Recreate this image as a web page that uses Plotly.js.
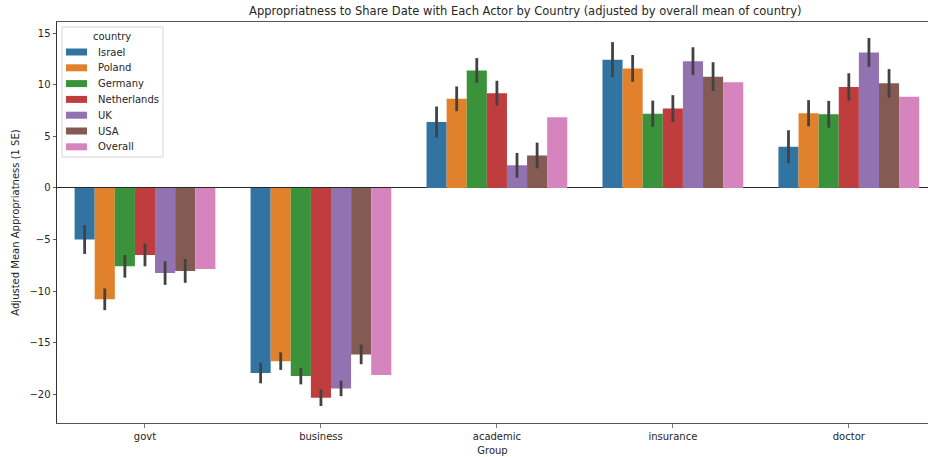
<!DOCTYPE html>
<html>
<head>
<meta charset="utf-8">
<script src="https://cdn.plot.ly/plotly-3.0.1.min.js"></script>
<style>html,body{margin:0;padding:0;background:#fff;}#chart{width:928px;height:457px;}</style>
</head>
<body>
<div id="chart"></div>
<script>
const groups = ["govt", "business", "academic", "insurance", "doctor"];
const countries = ["Israel", "Poland", "Germany", "Netherlands", "UK", "USA", "Overall"];

const israel      = [-5.0, -17.95, 6.4, 12.45, 4.0];
const poland      = [-10.8, -16.8, 8.65, 11.6, 7.25];
const germany     = [-7.6, -18.25, 11.4, 7.2, 7.15];
const netherlands = [-6.5, -20.35, 9.2, 7.7, 9.8];
const uk          = [-8.25, -19.45, 2.2, 12.3, 13.15];
const usa         = [-8.05, -16.15, 3.15, 10.8, 10.15];
const overall     = [-7.85, -18.15, 6.85, 10.25, 8.85];

const seIsrael      = [1.4, 1.0, 1.5, 1.7, 1.6];
const sePoland      = [1.05, 0.85, 1.2, 1.3, 1.27];
const seGermany     = [1.1, 0.8, 1.2, 1.28, 1.3];
const seNetherlands = [1.1, 0.8, 1.2, 1.3, 1.33];
const seUK          = [1.15, 0.75, 1.2, 1.35, 1.4];
const seUSA         = [1.15, 0.95, 1.25, 1.4, 1.38];

const series = [israel, poland, germany, netherlands, uk, usa, overall];
const ses = [seIsrael, sePoland, seGermany, seNetherlands, seUK, seUSA, null];
const colors = ["#3274a1", "#e1812c", "#3a923a", "#c03d3e", "#9372b2", "#845b53", "#d684bd"];

const traces = countries.map((c, i) => {
  const t = {
    type: "bar",
    name: c,
    x: groups,
    y: series[i],
    marker: {color: colors[i], line: {width: 0}},
    showlegend: false
  };
  if (ses[i]) {
    t.error_y = {type: "data", array: ses[i], visible: true, color: "#424242", thickness: 2.8, width: 0};
  }
  return t;
});

// plot area in pixels
const M = {l: 57, r: 0, t: 22, b: 34};
const W = 928, H = 457;
const pw = W - M.l - M.r, ph = H - M.t - M.b;
const px = v => (v - M.l) / pw;
const py = v => 1 - (v - M.t) / ph;

const font = "DejaVu Sans, sans-serif";
const txt = "#262626";

// custom legend (matplotlib style)
const shapes = [{
  type: "rect", xref: "paper", yref: "paper", layer: "above",
  x0: px(62), x1: px(163), y0: py(157), y1: py(27),
  fillcolor: "rgba(255,255,255,0.8)", line: {color: "#d5d5d5", width: 1}
}];
const annotations = [{
  xref: "paper", yref: "paper", x: px(112), y: py(36.5), text: "country",
  showarrow: false, xanchor: "center", yanchor: "middle",
  font: {family: font, size: 10, color: txt}
}];
countries.forEach((c, i) => {
  const cy = 52 + i * 15.8;
  shapes.push({
    type: "rect", xref: "paper", yref: "paper", layer: "above",
    x0: px(66), x1: px(87), y0: py(cy + 3.5), y1: py(cy - 3.5),
    fillcolor: colors[i], line: {width: 0}
  });
  annotations.push({
    xref: "paper", yref: "paper", x: px(95.5), y: py(cy), text: c,
    showarrow: false, xanchor: "left", yanchor: "middle",
    font: {family: font, size: 10, color: txt}
  });
});

const layout = {
  width: W, height: H,
  margin: {l: M.l, r: M.r, t: M.t, b: M.b, pad: 0},
  paper_bgcolor: "#fff", plot_bgcolor: "#fff",
  font: {family: font, size: 10, color: txt},
  barmode: "group", bargap: 0.2, bargroupgap: 0,
  title: {text: "Appropriatness to Share Date with Each Actor by Country (adjusted by overall mean of country)",
          font: {family: font, size: 11.5, color: txt},
          x: 0.566, xref: "container", xanchor: "center", y: 1, yref: "container", yanchor: "top", pad: {t: 7}},
  xaxis: {
    range: [-0.5, 4.45], showgrid: false, zeroline: false,
    showline: true, linecolor: "#555", linewidth: 1, mirror: true,
    ticks: "outside", ticklen: 3.5, tickcolor: "#555", tickwidth: 0.8,
    tickfont: {family: font, size: 10, color: txt},
    title: {text: "Group", font: {family: font, size: 10, color: txt}, standoff: 6},
    fixedrange: true
  },
  yaxis: {
    range: [-22.8, 16.1], showgrid: false,
    zeroline: true, zerolinecolor: "#262626", zerolinewidth: 1,
    showline: true, linecolor: "#333", linewidth: 1, mirror: false,
    ticks: "outside", ticklen: 3.5, tickcolor: "#333", tickwidth: 0.8,
    tickvals: [-20, -15, -10, -5, 0, 5, 10, 15],
    ticktext: ["\u221220", "\u221215", "\u221210", "\u22125", "0", "5", "10", "15"],
    tickfont: {family: font, size: 10, color: txt},
    title: {text: "Adjusted Mean Appropriatness (1 SE)", font: {family: font, size: 10, color: txt}, standoff: 7},
    fixedrange: true
  },
  shapes: shapes,
  annotations: annotations,
  showlegend: false
};

Plotly.newPlot("chart", traces, layout, {displayModeBar: false, staticPlot: true});
</script>
</body>
</html>
